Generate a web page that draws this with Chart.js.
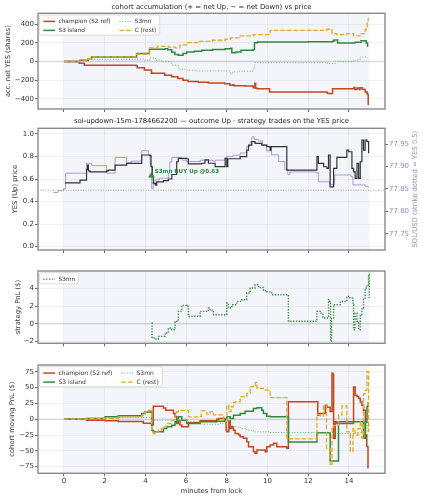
<!DOCTYPE html>
<html><head><meta charset="utf-8">
<script src="https://cdn.jsdelivr.net/npm/chart.js@4.4.1/dist/chart.umd.min.js"></script>
<style>
html,body{margin:0;padding:0;background:#ffffff;overflow:hidden;}
#wrap{position:relative;width:423px;height:500px;}
canvas{position:absolute;left:0;}
</style></head><body>
<div id="wrap">
<canvas id="c1" width="423" height="116" style="top:0px"></canvas>
<canvas id="c2" width="423" height="140" style="top:114px"></canvas>
<canvas id="c3" width="423" height="92" style="top:256px"></canvas>
<canvas id="c4" width="423" height="148" style="top:352px"></canvas>
</div>
<script>
// ---------------- data (minutes from lock, value) ----------------
const WINDOW = [0, 15];
const X_RANGE = [-1.275, 15.775];
const X_TICKS = [0, 2, 4, 6, 8, 10, 12, 14];
const ACC_RANGE = [-508, 518];
const ACC_TICKS = [-400, -200, 0, 200, 400];
const PRICE_RANGE = [-0.03, 1.05];
const PRICE_TICKS = [0, 0.2, 0.4, 0.6, 0.8, 1.0];
const SOL_RANGE = [77.714, 77.985];
const SOL_TICKS = [77.75, 77.80, 77.85, 77.90, 77.95];
const STRIKE_YES = 0.5;
const PNL_RANGE = [-2.22, 5.97];
const PNL_TICKS = [-2, 0, 2, 4];
const COH_RANGE = [-85.5, 85.6];
const COH_TICKS = [-75, -50, -25, 0, 25, 50, 75];
const COHORTS = ['champion (S2 ref)', 'S3 island', 'S3mn', 'C (rest)'];
const TRADES = [{who: 'S3mn', side: 'BUY Up', t: 4.3, price: 0.63}];

const champion_acc = [[0,0],[0.75,-18],[1.0,-38],[3.55,-45],[3.6,-65],[3.95,-90],[4.3,-125],[4.95,-145],[5.3,-163],[5.6,-182],[5.85,-200],[6.1,-212],[6.6,-222],[7.1,-230],[7.9,-238],[8.15,-253],[8.3,-248],[8.35,-258],[8.9,-262],[9.3,-280],[9.38,-232],[9.42,-285],[9.5,-290],[10.1,-325],[12.9,-328],[12.95,-343],[13.2,-290],[14.15,-292],[14.25,-278],[14.3,-300],[14.4,-282],[14.5,-300],[14.55,-280],[14.65,-295],[14.75,-300],[14.8,-325],[14.9,-350],[14.95,-465]];
const island_acc = [[0,0],[0.79,15],[1.2,32],[1.36,50],[3.57,86],[4.2,133],[4.97,139],[5.1,128],[5.3,100],[5.45,75],[5.62,68],[5.85,86],[6.03,104],[6.4,110],[6.77,122],[7.3,130],[7.92,139],[8.2,142],[8.25,96],[8.45,104],[8.7,122],[9.3,130],[9.36,203],[9.5,211],[12.0,214],[13.2,218],[13.27,232],[13.45,200],[14.3,208],[14.6,225],[14.85,200],[14.92,157]];
const s3mn_acc = [[0,0],[1.2,25],[3.57,25],[3.9,15],[4.23,40],[4.5,15],[4.8,0],[5.3,-39],[5.62,-82],[5.95,-92],[6.5,-100],[7.9,-100],[8.17,-118],[8.25,-135],[8.3,-110],[8.6,-102],[9.3,-67],[9.38,-11],[12.9,-11],[12.95,-21],[13.3,-21],[13.35,4],[13.7,0],[14.23,15],[14.55,50],[14.9,40]];
const rest_acc = [[0,0],[0.79,15],[1.2,32],[1.36,50],[3.57,80],[4.2,147],[4.6,164],[5.13,155],[5.46,147],[5.7,179],[6.03,203],[6.6,218],[7.3,229],[7.92,240],[8.17,254],[8.66,275],[9.31,289],[10.13,336],[12.92,347],[13.17,300],[13.4,289],[13.9,300],[14.23,275],[14.55,300],[14.8,340],[14.85,360],[14.9,420],[14.95,470]];

const yes_price = [[0.05,0.566],[0.79,0.59],[1.11,0.686],[1.16,0.724],[1.2,0.673],[1.28,0.664],[2.1,0.673],[2.18,0.679],[2.51,0.724],[3.08,0.739],[3.82,0.813],[4.23,0.807],[4.28,0.709],[4.34,0.62],[4.39,0.561],[4.5,0.545],[4.56,0.575],[4.89,0.585],[5.13,0.60],[5.3,0.64],[5.54,0.753],[5.62,0.783],[6.03,0.78],[6.11,0.735],[6.77,0.74],[6.93,0.77],[7.1,0.74],[7.43,0.71],[7.92,0.783],[8.0,0.709],[8.05,0.78],[8.25,0.78],[8.66,0.798],[8.98,0.857],[9.07,0.90],[9.23,0.932],[9.39,0.917],[9.72,0.90],[9.97,0.887],[10.13,0.857],[10.18,0.887],[10.95,0.679],[12.35,0.679],[12.43,0.798],[12.5,0.739],[12.76,0.709],[12.92,0.694],[13.0,0.813],[13.08,0.531],[13.17,0.531],[13.25,0.694],[13.41,0.792],[13.9,0.857],[13.99,0.842],[14.15,0.694],[14.23,0.664],[14.31,0.605],[14.4,0.739],[14.48,0.605],[14.56,0.753],[14.64,0.946],[14.72,0.857],[14.8,0.946],[14.89,0.932],[14.97,0.828]];
const sol_usd = [[-0.52,77.842],[-0.3,77.846],[-0.03,77.85],[0.08,77.885],[1.11,77.907],[1.36,77.902],[2.1,77.885],[2.51,77.92],[3.08,77.908],[3.3,77.912],[3.82,77.935],[4.15,77.925],[4.23,77.905],[4.31,77.851],[4.39,77.86],[4.48,77.87],[4.7,77.874],[5.13,77.885],[5.2,77.91],[5.3,77.92],[5.8,77.914],[6.03,77.911],[6.7,77.914],[7.3,77.912],[7.43,77.914],[7.9,77.918],[8.0,77.922],[8.3,77.925],[8.66,77.93],[8.98,77.945],[9.15,77.955],[9.23,77.966],[9.35,77.96],[9.55,77.957],[9.75,77.948],[9.95,77.935],[10.2,77.926],[10.55,77.911],[10.85,77.893],[11.0,77.882],[11.1,77.888],[12.35,77.886],[12.5,77.866],[13.05,77.86],[13.3,77.881],[14.1,77.877],[14.2,77.859],[14.8,77.856],[14.95,77.853]];

const s3mn_pnl = [[4.31,0.08],[4.33,-1.62],[4.48,-1.73],[4.64,-1.43],[4.8,-1.43],[4.97,-1.05],[5.13,-0.49],[5.3,-0.68],[5.46,0.27],[5.62,1.40],[5.79,2.08],[6.03,1.97],[6.11,0.84],[6.61,0.84],[6.69,1.40],[6.95,1.40],[7.1,1.78],[7.18,1.5],[7.35,1.02],[7.92,1.02],[8.0,2.34],[8.08,1.78],[8.25,2.15],[8.49,2.53],[8.74,2.72],[8.98,3.48],[9.15,4.04],[9.39,4.42],[9.56,4.1],[9.8,3.74],[9.97,3.6],[10.21,3.28],[10.95,3.28],[11.03,0.27],[12.35,0.27],[12.43,1.40],[12.59,1.2],[12.72,0.65],[12.95,0.65],[13.0,2.72],[13.05,2.53],[13.1,-2.0],[13.15,0.65],[13.25,2.15],[13.45,2.15],[13.58,2.53],[13.9,3.1],[14.05,2.9],[14.2,2.15],[14.23,-0.68],[14.3,1.2],[14.4,0.27],[14.48,-0.68],[14.56,0.9],[14.64,1.78],[14.72,2.9],[14.8,4.04],[14.89,4.4],[14.97,5.55],[15.0,2.9]];

const champion_pnl = [[0,0],[1.11,-1.5],[2.02,-2.6],[2.67,-3.7],[3.9,-6.5],[4.31,-9],[4.39,20.5],[4.89,17.8],[5.0,14.2],[5.38,8.9],[5.46,3.7],[5.54,-7],[5.62,-2],[5.7,-9],[5.79,-12],[6.12,-5.8],[6.69,-2.6],[7.51,0],[7.6,1],[7.92,-1.6],[7.97,-17.4],[8.0,-20],[8.1,-3],[8.17,-14.7],[8.25,-12],[8.33,-17.4],[8.41,-22.6],[8.58,-25],[8.66,-27.7],[8.82,-30.3],[8.99,-35.5],[9.07,-43.4],[9.31,-51.3],[9.39,-54],[9.48,-48.7],[9.89,-51.3],[9.97,-43.4],[10.13,-40.8],[10.3,-38.2],[10.46,-43.4],[10.95,-46],[11.03,27.4],[12.43,27.4],[12.47,6.3],[12.55,9],[12.84,22],[12.92,19],[13.08,12],[13.17,72.5],[13.22,70],[13.25,-30.3],[13.33,-4.2],[13.41,-6.8],[14.15,-6.8],[14.23,51],[14.31,38],[14.4,36],[14.48,33],[14.56,27],[14.64,22],[14.72,14],[14.81,-25],[14.88,-43],[14.94,-78]];
const island_pnl = [[0,0],[1.11,1],[2.02,3.7],[2.67,5.3],[3.82,8.9],[3.98,11.5],[4.31,-17.4],[4.39,-20],[4.89,-14.7],[5.05,-12.1],[5.3,-9.5],[5.46,-4.2],[5.54,1],[5.62,3.7],[5.79,-1.6],[6.03,-6.8],[6.69,-4.2],[7.51,-3.2],[7.92,-1.6],[8.0,3.7],[8.17,1.0],[8.33,6.3],[8.66,9],[8.9,12.6],[9.31,16.8],[9.48,17.9],[9.72,14.2],[9.8,9],[9.97,4.7],[10.13,3.7],[11.03,-36],[12.43,-21.6],[13.08,-66],[13.49,-4.2],[14.72,-30],[14.81,-5],[14.89,20],[14.95,27]];
const s3mn_coh_pnl = [[0,0],[1.11,2],[2.02,2.6],[4.31,0],[4.39,-1.6],[5.54,-1.6],[6.03,-4],[6.69,-8],[7.67,-7],[8.0,-9.5],[8.33,-12],[8.66,-14.7],[8.99,-17.4],[9.31,-20],[10.13,-21],[12.43,-21.5],[13.25,-22.6],[14.23,-21.5],[14.72,-20],[14.89,-9.5],[14.95,-20]];
const rest_pnl = [[0,0],[1.11,1],[2.02,1.5],[2.67,3.7],[3.82,6.3],[3.98,11.5],[4.15,14],[4.31,-20],[4.39,-22.6],[4.48,-20],[4.64,-17.4],[4.8,-14.7],[4.89,-12],[5.05,-6.8],[5.3,-1.6],[5.46,6.3],[5.54,11.5],[5.62,14],[6.03,14],[6.12,3.7],[6.69,4],[6.75,13],[7.02,8],[7.18,12],[7.34,6.8],[7.84,-3.7],[8.0,22],[8.1,12],[8.21,19.5],[8.33,26],[8.41,27.4],[8.66,35.5],[8.99,40.8],[9.15,51.3],[9.31,53.9],[9.4,58],[9.48,48.7],[9.8,46],[9.97,46],[10.13,34],[10.95,-31],[12.43,7],[12.6,5],[12.75,21],[12.9,-46],[13.08,-73],[13.17,-12.6],[13.25,-10],[13.5,7],[13.66,21],[13.9,-20],[14.07,-51],[14.2,-15],[14.3,-25],[14.45,-15],[14.56,-4],[14.64,-30],[14.72,40],[14.81,46],[14.89,75],[14.97,-20]];

// ---------------- styling ----------------
const FONT = "'DejaVu Sans', sans-serif";
const C_CHAMP = '#c4481f', C_ISL = '#2f8a3e', C_MN = '#6fb66f', C_REST = '#e5a823';
const C_YES = '#333333', C_SOL = 'rgba(150,125,205,0.75)', C_SOL_TXT = '#9d88c9';
const GRID = 'rgba(0,0,0,0.065)', SPAN = '#f4f5fa', FRAME = '#8a8a8a';
const TICK_FONT = {family: FONT, size: 7};
const LABEL_FONT = {family: FONT, size: 6.8};

const pts = a => a.map(([x, y]) => ({x, y}));
const minus = v => String(v).replace('-', '\u2212');
const fixedTicks = vals => s => { s.ticks = vals.map(v => ({value: v})); };

function xAxis(showLabels) {
  return {
    type: 'linear', min: X_RANGE[0], max: X_RANGE[1],
    afterBuildTicks: fixedTicks(X_TICKS),
    afterFit: s => { s.height = showLabels ? 26.7 : 4; s.paddingLeft = 0; s.paddingRight = 0; },
    grid: {color: GRID, tickColor: '#444', tickLength: 3, lineWidth: 0.8, tickWidth: 0.8},
    border: {display: false},
    ticks: {display: showLabels, padding: 0.5, autoSkip: false, maxRotation: 0, color: '#333', font: TICK_FONT, callback: v => minus(v)},
    title: {display: showLabels, text: 'minutes from lock', color: '#333', font: LABEL_FONT, padding: {top: 0, bottom: 4.8}}
  };
}
function yAxis(range, ticks, fmt, title, titlePad, extra) {
  return Object.assign({
    type: 'linear', position: 'left', min: range[0], max: range[1],
    afterBuildTicks: fixedTicks(ticks),
    afterFit: s => { s.width = 38; s.paddingTop = 0; s.paddingBottom = 0; },
    grid: {color: GRID, tickColor: '#444', tickLength: 3, lineWidth: 0.8, tickWidth: 0.8},
    border: {display: false},
    ticks: {padding: 1, color: '#333', font: TICK_FONT, callback: fmt},
    title: {display: true, text: title, color: '#333', font: LABEL_FONT, padding: {top: titlePad, bottom: 0}}
  }, extra || {});
}
function series(label, data, color, width, dash, extra) {
  return Object.assign({
    label, data: pts(data), borderColor: color, backgroundColor: color,
    borderWidth: width, borderDash: dash || [], stepped: true, pointRadius: 0,
    pointHoverRadius: 0, fill: false, tension: 0, borderCapStyle: 'butt', borderJoinStyle: 'miter'
  }, extra || {});
}
function cohortSets(ch, isl, mn, rest) {
  return [
    series(COHORTS[0], ch, C_CHAMP, 1.5, [], {order: 3}),
    series(COHORTS[1], isl, C_ISL, 1.5, [], {order: 2}),
    series(COHORTS[2], mn, C_MN, 1.0, [1, 1.7], {order: 1}),
    series(COHORTS[3], rest, C_REST, 1.3, [4.6, 2], {order: 0})
  ];
}

function drawLegend(ctx, a, L) {
  ctx.save();
  ctx.font = L.size + 'px ' + FONT;
  const rows = L.rows, cols = Math.ceil(L.items.length / rows);
  const colW = [];
  for (let c = 0; c < cols; c++) {
    let w = 0;
    for (let r = 0; r < rows; r++) { const it = L.items[c * rows + r]; if (it) w = Math.max(w, ctx.measureText(it.label).width); }
    colW.push(L.sample + L.gap + w);
  }
  const innerW = colW.reduce((s, w) => s + w, 0) + (cols - 1) * L.colSp;
  const bx = a.left + L.dx, by = a.top + L.dy;
  const bw = L.padL + innerW + L.padR, bh = L.padT + (rows - 1) * L.rowH + L.padB;
  ctx.beginPath();
  ctx.roundRect(bx, by, bw, bh, 2);
  ctx.fillStyle = 'rgba(255,255,255,0.85)'; ctx.fill();
  ctx.strokeStyle = '#d2d2d2'; ctx.lineWidth = 0.8; ctx.stroke();
  let cx = bx + L.padL;
  for (let c = 0; c < cols; c++) {
    for (let r = 0; r < rows; r++) {
      const it = L.items[c * rows + r]; if (!it) continue;
      const y = by + L.padT + r * L.rowH;
      ctx.beginPath(); ctx.setLineDash(it.borderDash || []);
      ctx.strokeStyle = it.borderColor; ctx.lineWidth = it.borderWidth;
      ctx.moveTo(cx, y); ctx.lineTo(cx + L.sample, y); ctx.stroke();
      ctx.setLineDash([]);
      ctx.fillStyle = '#333'; ctx.textBaseline = 'middle'; ctx.textAlign = 'left';
      ctx.fillText(it.label, cx + L.sample + L.gap, y);
    }
    cx += colW[c] + L.colSp;
  }
  ctx.restore();
}

function makeDeco(cfg) {
  return {
    id: 'deco',
    beforeDraw(chart) {
      const {ctx, chartArea: a, scales: {x}} = chart;
      const x0 = x.getPixelForValue(WINDOW[0]), x1 = x.getPixelForValue(WINDOW[1]);
      ctx.save(); ctx.fillStyle = SPAN; ctx.fillRect(x0, a.top, x1 - x0, a.bottom - a.top); ctx.restore();
    },
    beforeDatasetsDraw(chart) {
      const {ctx, chartArea: a} = chart;
      (cfg.hlines || []).forEach(h => {
        const y = chart.scales[h.axis].getPixelForValue(h.value);
        ctx.save(); ctx.beginPath(); ctx.setLineDash(h.dash || []);
        ctx.strokeStyle = h.color; ctx.lineWidth = h.width;
        ctx.moveTo(a.left, y); ctx.lineTo(a.right, y); ctx.stroke(); ctx.restore();
      });
    },
    afterDatasetsDraw(chart) {
      const {ctx, chartArea: a} = chart;
      if (cfg.trades) {
        ctx.save();
        ctx.font = 'bold 5.6px ' + FONT; ctx.fillStyle = C_ISL; ctx.textBaseline = 'middle'; ctx.textAlign = 'left';
        cfg.trades.forEach(t => {
          const px = chart.scales.x.getPixelForValue(t.t), py = chart.scales.y.getPixelForValue(t.price);
          ctx.fillText(t.who + ' ' + t.side + ' @' + t.price.toFixed(2), px + 3.2, py - 3.6);
        });
        ctx.restore();
      }
      ctx.save(); ctx.strokeStyle = FRAME; ctx.lineWidth = 1.4;
      ctx.strokeRect(a.left, a.top, a.right - a.left, a.bottom - a.top); ctx.restore();
      if (cfg.legend) {
        const L = Object.assign({rows: 2, sample: 11.7, gap: 3.5, colSp: 9, padL: 4, padR: 3.5, padT: 6.4, padB: 4.7, rowH: 9, dx: 1.3, dy: 1.7, size: 5.8}, cfg.legend);
        L.items = chart.data.datasets.filter(d => d.label);
        drawLegend(ctx, a, L);
      }
    },
    afterDraw(chart) {
      const {ctx, chartArea: a} = chart;
      if (cfg.rightTitle) {
        const r = cfg.rightTitle;
        ctx.save(); ctx.font = LABEL_FONT.size + 'px ' + FONT; ctx.fillStyle = r.color;
        ctx.translate(chart.width - r.inset, (a.top + a.bottom) / 2);
        ctx.rotate(-Math.PI / 2);
        ctx.textAlign = 'center'; ctx.textBaseline = 'middle';
        ctx.fillText(r.text, 0, 0); ctx.restore();
      }
      if (!cfg.title) return;
      ctx.save(); ctx.font = cfg.title.size + 'px ' + FONT; ctx.fillStyle = '#222';
      ctx.textAlign = 'center'; ctx.textBaseline = 'middle';
      ctx.fillText(cfg.title.text, (a.left + a.right) / 2, cfg.title.y); ctx.restore();
    }
  };
}
function opts(padding, scales) {
  return {
    responsive: false, animation: false, events: [],
    layout: {padding, autoPadding: false},
    plugins: {legend: {display: false}, tooltip: {enabled: false}, title: {display: false}},
    scales
  };
}
const zeroLine = {axis: 'y', value: 0, color: 'rgba(0,0,0,0.09)', width: 2};

// ---------------- panel 1 ----------------
new Chart(document.getElementById('c1'), {
  type: 'line',
  data: {datasets: cohortSets(champion_acc, island_acc, s3mn_acc, rest_acc)},
  options: opts({left: 0, right: 38, top: 13.3, bottom: 3}, {
    x: xAxis(false),
    y: yAxis(ACC_RANGE, ACC_TICKS, v => minus(v), 'acc. net YES (shares)', 4.2)
  }),
  plugins: [makeDeco({hlines: [zeroLine], legend: {}, title: {text: 'cohort accumulation (+ = net Up, \u2212 = net Down) vs price', y: 7.3, size: 6.9}})]
});

// ---------------- panel 2 ----------------
new Chart(document.getElementById('c2'), {
  type: 'line',
  data: {datasets: [
    series('', sol_usd, C_SOL, 1.0, [], {yAxisID: 'y2', order: 3}),
    series('', yes_price, C_YES, 1.2, [], {yAxisID: 'y', order: 1}),
    {label: '', data: TRADES.map(t => ({x: t.t, y: t.price})), showLine: false, pointStyle: 'triangle',
     pointRadius: 3.4, pointBackgroundColor: C_ISL, pointBorderColor: C_ISL, pointBorderWidth: 0.5, yAxisID: 'y', order: 0}
  ]},
  options: opts({left: 0, right: 0, top: 14.3, bottom: 0}, {
    x: xAxis(false),
    y: yAxis(PRICE_RANGE, PRICE_TICKS, v => v.toFixed(1), 'YES (Up) price', 10.9),
    y2: yAxis(SOL_RANGE, SOL_TICKS, v => v.toFixed(2), '', 0, {
      position: 'right',
      grid: {drawOnChartArea: false, tickColor: '#444', tickLength: 3, tickWidth: 0.8},
      ticks: {padding: 1, color: C_SOL_TXT, font: TICK_FONT, callback: v => v.toFixed(2)},
      title: {display: false}
    })
  }),
  plugins: [makeDeco({
    hlines: [{axis: 'y', value: STRIKE_YES, color: '#9a9a9a', width: 0.9, dash: [1, 1.5]}],
    trades: TRADES,
    rightTitle: {text: 'SOL/USD (strike dotted = YES 0.5)', color: C_SOL_TXT, inset: 8},
    title: {text: 'sol-updown-15m-1784662200 \u2014 outcome Up \u00b7 strategy trades on the YES price', y: 7.7, size: 6.9}
  })]
});

// ---------------- panel 3 ----------------
new Chart(document.getElementById('c3'), {
  type: 'line',
  data: {datasets: [series('S3mn', s3mn_pnl, C_ISL, 1.4, [1.3, 1.5])]},
  options: opts({left: 0, right: 38, top: 15, bottom: 0.7}, {
    x: xAxis(false),
    y: yAxis(PNL_RANGE, PNL_TICKS, v => minus(v), 'strategy PnL ($)', 14.2)
  }),
  plugins: [makeDeco({hlines: [zeroLine], legend: {rows: 1}})]
});

// ---------------- panel 4 ----------------
new Chart(document.getElementById('c4'), {
  type: 'line',
  data: {datasets: cohortSets(champion_pnl, island_pnl, s3mn_coh_pnl, rest_pnl)},
  options: opts({left: 0, right: 38, top: 13, bottom: 0}, {
    x: xAxis(true),
    y: yAxis(COH_RANGE, COH_TICKS, v => minus(v), 'cohort moving PnL ($)', 8.6)
  }),
  plugins: [makeDeco({hlines: [zeroLine], legend: {size: 6}})]
});
</script></body></html>
